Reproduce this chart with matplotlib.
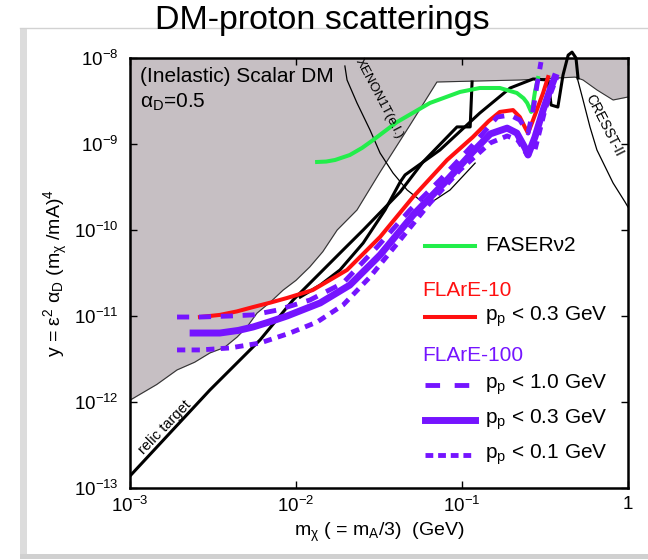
import numpy as np
import matplotlib.pyplot as plt
from matplotlib.patches import Rectangle
from matplotlib.lines import Line2D

plt.rcParams['font.family'] = ['Liberation Sans', 'DejaVu Sans']
plt.rcParams['mathtext.fontset'] = 'custom'
plt.rcParams['mathtext.rm'] = 'Liberation Sans'
plt.rcParams['mathtext.it'] = 'Liberation Sans:italic'
plt.rcParams['mathtext.bf'] = 'Liberation Sans:bold'

# excluded region (lower edge), m_chi in GeV
excl_m = [1.0e-3, 1.45e-3, 1.92e-3, 2.45e-3, 3.03e-3, 3.7e-3, 4.42e-3, 5.1e-3, 5.82e-3, 7.0e-3, 8.36e-3,
          1.0e-2, 1.21e-2, 1.45e-2, 1.77e-2, 2.33e-2, 3.21e-2, 4.86e-2, 7.06e-2, 0.223, 0.480, 0.536,
          0.650, 0.813, 1.0]
excl_y = [1.05e-12, 1.6e-12, 2.36e-12, 2.9e-12, 3.72e-12, 4.3e-12, 5.70e-12, 7.6e-12, 1.08e-11, 1.45e-11, 2.0e-11,
          2.6e-11, 3.72e-11, 5.6e-11, 1.0e-10, 1.71e-10, 4.72e-10, 1.66e-9, 5.26e-9, 5.55e-9, 6.0e-9, 5.55e-9,
          4.25e-9, 3.25e-9, 3.52e-9]

xenon_m = [1.97e-2, 2.03e-2, 2.33e-2, 2.79e-2, 3.21e-2, 3.84e-2, 4.67e-2, 5.58e-2, 6.59e-2, 8.47e-2, 0.120]
xenon_y = [8.07e-9, 5.55e-9, 3.0e-9, 1.46e-9, 7.85e-10, 4.6e-10, 2.92e-10, 2.23e-10, 2.12e-10, 2.92e-10, 6.0e-10]

cresst_m = [0.493, 0.536, 0.590, 0.650, 0.813, 0.959, 1.0]
cresst_y = [6.0e-9, 3.25e-9, 1.58e-9, 8.51e-10, 3.52e-10, 2.12e-10, 1.85e-10]

# relic targets
relic1_m = [1e-3, 3.03e-3, 6.07e-3, 9.59e-3, 1.92e-2, 2.54e-2, 4.24e-2, 5.82e-2, 9.33e-2, 0.112, 0.115]
relic1_y = [1.38e-13, 1.38e-12, 5.26e-12, 1.53e-11, 5.85e-11, 1e-10, 2.77e-10, 6.18e-10, 1.58e-9, 1.58e-9, 5.26e-9]
relic2_m = [1.06e-2, 1.40e-2, 1.84e-2, 2.54e-2, 3.44e-2, 4.24e-2, 4.54e-2, 7.36e-2, 0.128, 0.195,
            0.268, 0.330, 0.344, 0.378, 0.406, 0.436, 0.460, 0.486, 0.500]
relic2_y = [1.66e-11, 2.29e-11, 3.43e-11, 7.06e-11, 1.71e-10, 3.61e-10, 4.37e-10, 8.51e-10, 2.29e-9, 4.48e-9,
            5.70e-9, 5.55e-9, 2.84e-9, 2.69e-9, 6.34e-9, 1.08e-8, 1.17e-8, 1.0e-8, 5.85e-9]

faser_m = [1.34e-2, 1.52e-2, 1.72e-2, 2.11e-2, 2.5e-2, 2.91e-2, 4.06e-2, 6.41e-2, 9.73e-2, 0.128, 0.169,
           0.214, 0.235, 0.247, 0.261, 0.268, 0.275, 0.287]
faser_y = [6.18e-10, 6.25e-10, 6.52e-10, 7.45e-10, 9.0e-10, 1.11e-9, 1.80e-9, 3.0e-9, 4.03e-9, 4.48e-9, 4.48e-9,
           3.92e-9, 3.4e-9, 3.0e-9, 2.36e-9, 2.9e-9, 4.03e-9, 5.85e-9]

flare10_m = [2.64e-3, 3.48e-3, 4.4e-3, 5.51e-3, 7.0e-3, 8.83e-3, 1.26e-2, 2.03e-2, 3.21e-2, 5.07e-2, 8.13e-2, 0.116,
             0.145, 0.169, 0.203, 0.223, 0.240, 0.250, 0.268, 0.308, 0.330]
flare10_y = [9.73e-12, 1.03e-11, 1.13e-11, 1.27e-11, 1.43e-11, 1.62e-11, 2.0e-11, 3.43e-11, 8.3e-11, 2.42e-10,
             6.52e-10, 1.2e-9, 1.85e-9, 2.36e-9, 2.48e-9, 2.06e-9, 1.55e-9, 1.34e-9, 1.9e-9, 3.92e-9, 6.0e-9]

f100_03_m = [2.40e-3, 3.48e-3, 4.5e-3, 5.51e-3, 7.0e-3, 8.83e-3, 1.40e-2, 2.11e-2, 3.21e-2, 5.07e-2, 8.13e-2, 0.116,
             0.148, 0.187, 0.214, 0.240, 0.250, 0.275, 0.308, 0.339, 0.363]
f100_03_y = [6.34e-12, 6.34e-12, 6.8e-12, 7.45e-12, 8.6e-12, 1.0e-11, 1.42e-11, 2.29e-11, 5.12e-11, 1.49e-10,
             3.81e-10, 8.07e-10, 1.31e-9, 1.53e-9, 1.34e-9, 8.97e-10, 7.45e-10, 1.2e-9, 2.48e-9, 4.25e-9, 6.0e-9]

f100_10_m = [1.92e-3, 2.64e-3, 4.0e-3, 5.51e-3, 7.69e-3, 1.21e-2, 1.92e-2, 3.08e-2, 4.86e-2, 7.36e-2, 0.116,
             0.163, 0.195, 0.223, 0.250, 0.268, 0.283, 0.299]
f100_10_y = [9.73e-12, 9.73e-12, 1.0e-11, 1.03e-11, 1.17e-11, 1.53e-11, 2.42e-11, 6.34e-11, 1.71e-10, 3.81e-10,
             9.73e-10, 2.06e-9, 2.17e-9, 1.9e-9, 1.34e-9, 2.48e-9, 4.85e-9, 8.97e-9]

f100_01_m = [1.92e-3, 2.64e-3, 4.0e-3, 6.07e-3, 9.2e-3, 1.34e-2, 1.92e-2, 2.79e-2, 4.24e-2, 6.41e-2, 9.73e-2,
             0.148, 0.187, 0.217, 0.247, 0.275, 0.316, 0.339, 0.373]
f100_01_y = [4.03e-12, 4.03e-12, 4.25e-12, 4.85e-12, 6.34e-12, 8.51e-12, 1.34e-11, 2.84e-11, 7.66e-11, 2.06e-10,
             4.99e-10, 1.03e-9, 1.24e-9, 1.11e-9, 7.45e-10, 8.51e-10, 2.48e-9, 3.72e-9, 6.0e-9]

xticks = [1e-3, 1e-2, 1e-1, 1]
xtick_labels = ['$10^{-3}$', '$10^{-2}$', '$10^{-1}$', '1']
yticks = [1e-13, 1e-12, 1e-11, 1e-10, 1e-9, 1e-8]
ytick_labels = ['$10^{-13}$', '$10^{-12}$', '$10^{-11}$', '$10^{-10}$', '$10^{-9}$', '$10^{-8}$']

green = '#22ee4a'
red = '#ff1010'
purple = '#7514ff'
grey = '#c6bfc3'

fig = plt.figure(figsize=(6.48, 5.6), dpi=100)
ax = fig.add_axes([130/648, 1-488/560, 498/648, 430/560])
ax.set_xscale('log')
ax.set_yscale('log')
ax.set_xlim(1e-3, 1)
ax.set_ylim(1e-13, 1e-8)

ax.fill_between(excl_m, excl_y, 1e-8, color=grey, lw=0, zorder=0)
ax.plot(excl_m, excl_y, color='#333333', lw=0.8, zorder=1)
ax.plot(xenon_m, xenon_y, color='k', lw=0.9, zorder=1)
ax.plot(cresst_m, cresst_y, color='k', lw=0.9, zorder=1)

ax.plot(relic1_m, relic1_y, color='k', lw=2.2, zorder=2)
ax.plot(relic2_m, relic2_y, color='k', lw=2.2, zorder=2, clip_on=False)

ax.plot(faser_m, faser_y, color=green, lw=2.9, zorder=3)
ax.plot(flare10_m, flare10_y, color=red, lw=2.9, zorder=3)
ax.plot(f100_03_m, f100_03_y, color=purple, lw=5, zorder=4)
ax.plot(f100_10_m, f100_10_y, color=purple, lw=3.5, dashes=(2.5, 2.0), zorder=5)
ax.plot(f100_01_m, f100_01_y, color=purple, lw=3.5, dashes=(1.7, 1.3), zorder=5)

# annotations
ax.text(0.02, 0.956, '(Inelastic) Scalar DM', transform=ax.transAxes, fontsize=15, va='center')
ax.text(0.02, 0.898, r'$\mathrm{α}_{\mathrm{D}}$=0.5', transform=ax.transAxes, fontsize=15, va='center')
ax.text(2.2e-2, 8.9e-9, 'XENON1T(e.l.)', fontsize=9.5, rotation=-62, rotation_mode='anchor',
        ha='left', va='bottom')
ax.text(0.53, 3.4e-9, 'CRESST-II', fontsize=10, rotation=-63, rotation_mode='anchor',
        ha='left', va='bottom')
ax.text(1.24e-3, 2.3e-13, 'relic target', fontsize=10.5, rotation=46, rotation_mode='anchor',
        ha='left', va='bottom')

# legend drawn by hand
lx0, lx1, ltx = 0.592, 0.693, 0.713
leg = [(0.563, green, 2.9, None, lx1, 'FASERν2'),
       (0.398, red, 2.9, None, lx1, r'p$_{\mathrm{p}}$ < 0.3 GeV'),
       (0.240, purple, 3.5, (3.0, 3.0), 0.680, r'p$_{\mathrm{p}}$ < 1.0 GeV'),
       (0.158, purple, 5, None, lx1, r'p$_{\mathrm{p}}$ < 0.3 GeV'),
       (0.077, purple, 3.5, (1.6, 1.0), lx1, r'p$_{\mathrm{p}}$ < 0.1 GeV')]
for yy, c, lw, ds, xe, lab in leg:
    ln = Line2D([lx0, xe], [yy, yy], color=c, lw=lw, transform=ax.transAxes)
    if ds is not None:
        ln.set_dashes(ds)
    ax.add_line(ln)
    ax.text(ltx, yy, lab, transform=ax.transAxes, fontsize=15, va='center')
ax.text(0.586, 0.460, 'FLArE-10', transform=ax.transAxes, fontsize=15, va='center', color=red)
ax.text(0.586, 0.309, 'FLArE-100', transform=ax.transAxes, fontsize=15, va='center', color=purple)

ax.set_xticks(xticks)
ax.set_xticklabels(xtick_labels)
ax.set_yticks(yticks)
ax.set_yticklabels(ytick_labels)
ax.xaxis.set_minor_locator(plt.NullLocator())
ax.yaxis.set_minor_locator(plt.NullLocator())
ax.tick_params(direction='in', length=5, width=1, top=True, right=True, labelsize=13.5)
ax.tick_params(axis='y', pad=8)
ax.tick_params(axis='x', pad=6)
for s in ax.spines.values():
    s.set_linewidth(1.8)

ax.set_xlabel(r'm$_{\mathrm{χ}}$ ( = m$_{\mathrm{A}}$/3)  (GeV)', fontsize=14, labelpad=3)
ax.set_ylabel(r'y = $\mathrm{ε}^{2}$ $\mathrm{α}_{\mathrm{D}}$ (m$_{\mathrm{χ}}$ /mA)$^{4}$', fontsize=14, labelpad=3)

# slide frame
fig.add_artist(Rectangle((20/648, 1-558/560), 7/648, 530/560, transform=fig.transFigure,
                         color='#dcdcdc', lw=0, zorder=0))
fig.add_artist(Line2D([20/648, 1], [1-28/560, 1-28/560], transform=fig.transFigure, color='#d2d2d2', lw=1, zorder=0))
fig.add_artist(Rectangle((20/648, 1-559/560), 628/648, 5/560, transform=fig.transFigure,
                         color='#d0d0d0', lw=0, zorder=0))

fig.text(0.497, 1-21/560, 'DM-proton scatterings', fontsize=24.5, ha='center', va='center')

fig.savefig('out.png', dpi=100)
